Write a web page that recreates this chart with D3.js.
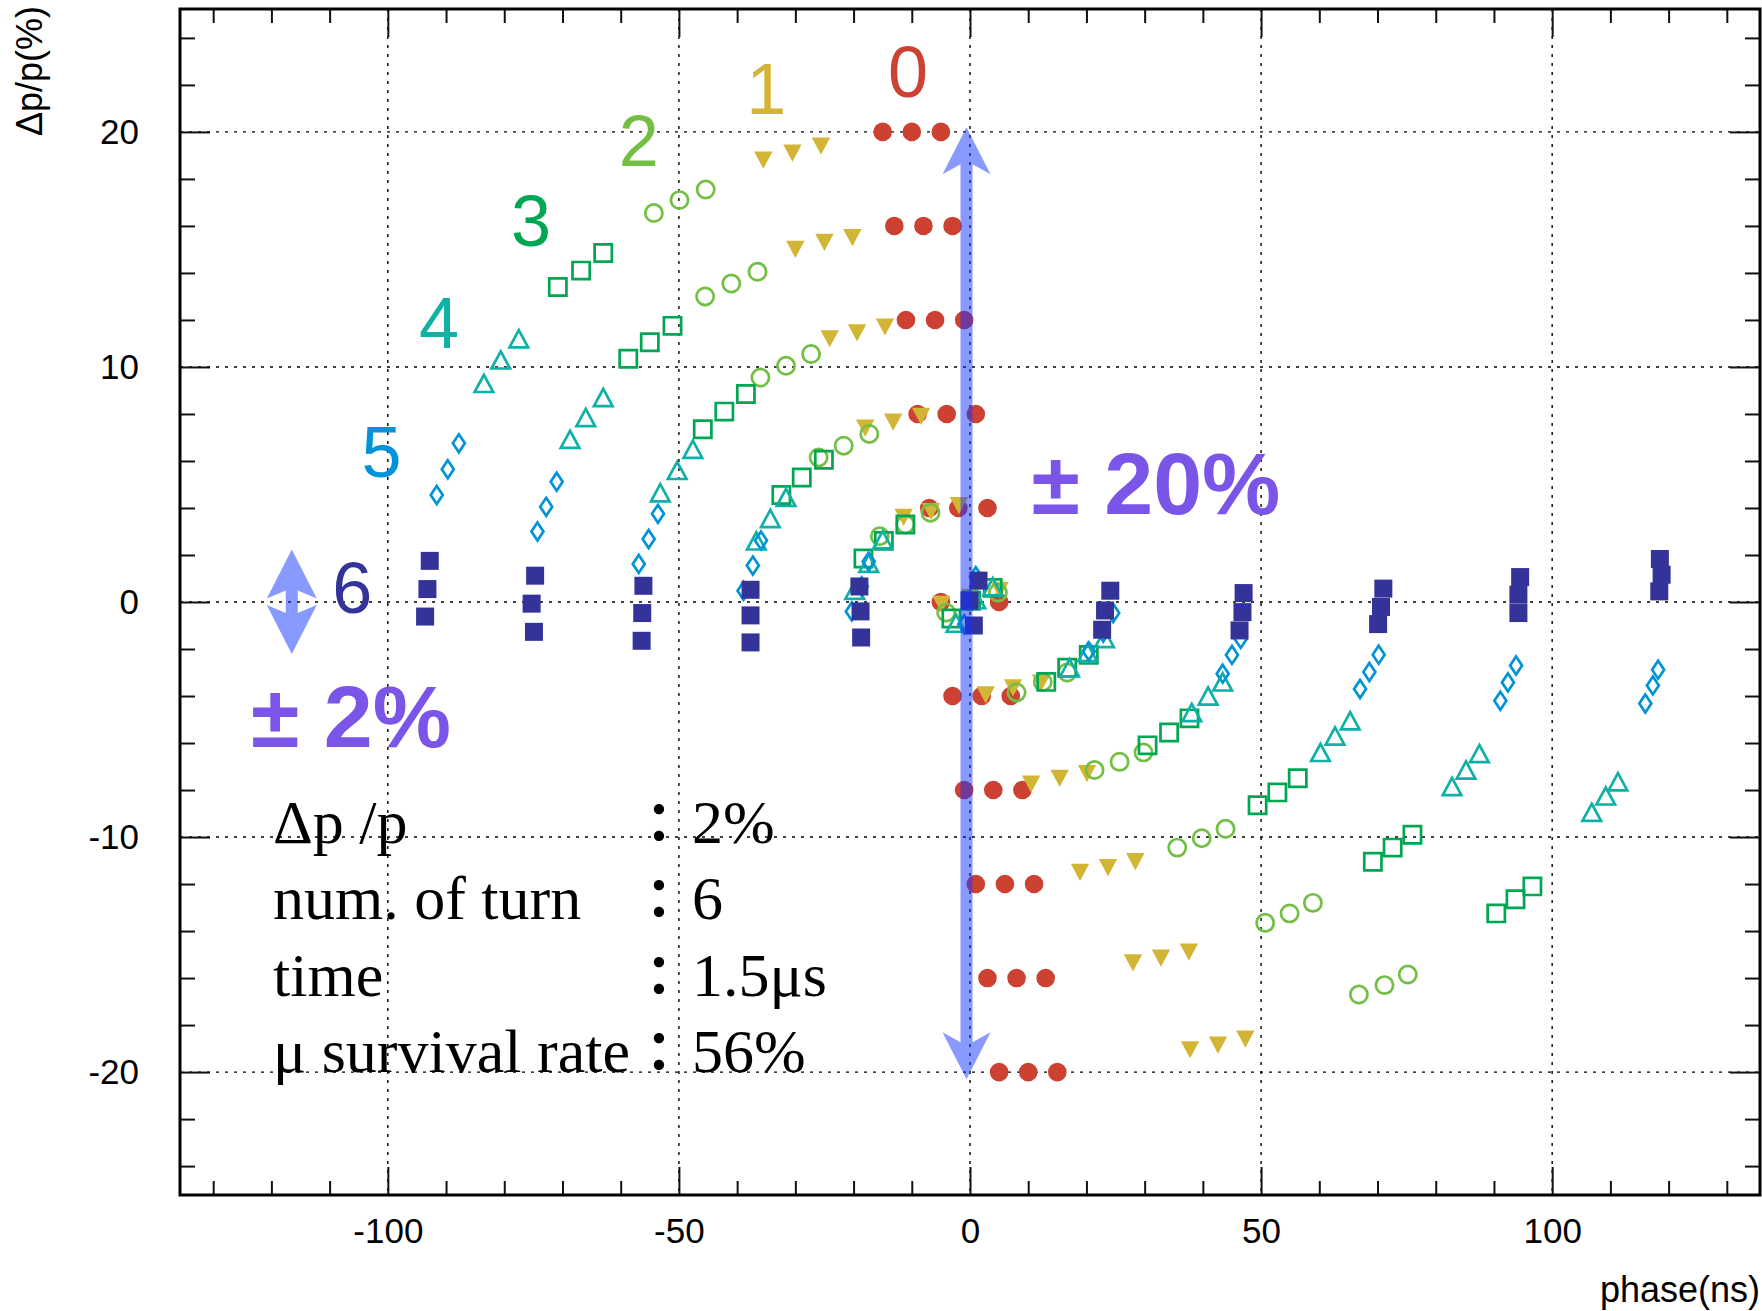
<!DOCTYPE html>
<html>
<head>
<meta charset="utf-8">
<script src="https://cdn.jsdelivr.net/npm/d3@7"></script>
<style>
body { margin: 0; background: #fff; }
svg { display: block; }
</style>
</head>
<body>
<svg width="1762" height="1311"></svg>
<script>
// phase space points after each turn, [phase(ns), dp/p(%)]
var turn0 = [[-15,20],[-10,20],[-5,20],[-13,16],[-8,16],[-3,16],[-11,12],[-6,12],[-1,12],
  [-9,8],[-4,8],[1,8],[-7,4],[-2,4],[3,4],[-5,0],[0,0],[5,0],[-3,-4],[2,-4],[7,-4],
  [-1,-8],[4,-8],[9,-8],[1,-12],[6,-12],[11,-12],[3,-16],[8,-16],[13,-16],[5,-20],[10,-20],[15,-20]];
var turn1 = [[-35.5,18.8],[-30.5,19.1],[-25.6,19.4],[-30.0,15.0],[-25.0,15.3],[-20.2,15.5],
  [-24.1,11.2],[-19.4,11.45],[-14.6,11.7],[-18.0,7.4],[-13.2,7.65],[-8.4,7.9],
  [-11.4,3.6],[-6.7,3.85],[-1.9,4.1],[-4.9,-0.1],[0.1,0.2],[5.1,0.5],
  [2.7,-3.95],[7.4,-3.65],[12.2,-3.45],[10.5,-7.75],[15.4,-7.5],[20.1,-7.3],
  [18.9,-11.5],[23.7,-11.3],[28.4,-11.05],[28.0,-15.35],[32.8,-15.15],[37.6,-14.9],
  [37.8,-19.05],[42.6,-18.85],[47.3,-18.6]];
var turn2 = [[-54.3,16.55],[-49.9,17.1],[-45.4,17.55],[-45.5,13.0],[-41.0,13.55],[-36.5,14.05],
  [-36.0,9.55],[-31.6,10.05],[-27.3,10.55],[-26.0,6.15],[-21.7,6.65],[-17.3,7.15],
  [-15.5,2.8],[-11.1,3.3],[-6.8,3.8],[-4.1,-0.45],[0.2,0.05],[4.8,0.4],
  [8.0,-3.85],[12.5,-3.4],[16.7,-3.0],[21.4,-7.15],[25.7,-6.8],[29.8,-6.4],
  [35.6,-10.45],[39.8,-10.05],[43.9,-9.65],[50.7,-13.65],[54.9,-13.25],[58.9,-12.8],
  [66.8,-16.7],[71.2,-16.3],[75.2,-15.85]];
var turn3 = [[-70.8,13.4],[-66.8,14.1],[-63.0,14.85],[-58.7,10.35],[-55.0,11.05],[-51.1,11.75],
  [-45.9,7.35],[-42.2,8.1],[-38.5,8.85],[-32.4,4.55],[-28.9,5.3],[-25.1,6.05],
  [-18.3,1.85],[-14.8,2.6],[-11.1,3.3],[-3.2,-0.7],[0.2,0.05],[3.9,0.6],
  [13.1,-3.4],[16.7,-2.8],[20.4,-2.25],[30.5,-6.1],[34.2,-5.55],[37.7,-4.95],
  [49.4,-8.65],[52.8,-8.1],[56.3,-7.5],[69.2,-11.05],[72.6,-10.45],[76.0,-9.9],
  [90.4,-13.25],[93.7,-12.65],[96.6,-12.1]];
var turn4 = [[-83.5,9.3],[-80.6,10.3],[-77.5,11.2],[-68.7,6.92],[-66.0,7.85],[-63.0,8.7],
  [-53.2,4.65],[-50.3,5.6],[-47.6,6.5],[-36.7,2.6],[-34.3,3.55],[-31.6,4.45],
  [-19.8,0.5],[-17.4,1.65],[-15.0,2.65],[-2.4,-0.9],[1.0,0.1],[3.9,0.65],
  [17.1,-2.8],[20.2,-2.15],[23.1,-1.55],[38.1,-4.7],[40.9,-4.0],[43.4,-3.4],
  [60.2,-6.4],[62.7,-5.7],[65.3,-5.05],[82.8,-7.85],[85.2,-7.15],[87.5,-6.45],
  [106.8,-8.95],[109.2,-8.25],[111.3,-7.65]];
var turn5 = [[-91.6,4.55],[-89.7,5.65],[-87.8,6.75],[-74.3,3.0],[-72.8,4.05],[-71.0,5.12],
  [-56.9,1.62],[-55.2,2.68],[-53.6,3.75],[-38.9,0.48],[-37.3,1.55],[-35.9,2.62],
  [-20.3,-0.4],[-18.6,0.66],[-17.4,1.72],[-1.0,-0.95],[0.0,0.1],[1.0,1.1],
  [20.4,-2.1],[22.9,-1.3],[24.6,-0.47],[43.4,-3.05],[45.0,-2.25],[46.5,-1.57],
  [67.0,-3.7],[68.6,-2.98],[70.2,-2.24],[91.1,-4.2],[92.4,-3.42],[93.8,-2.7],
  [116.0,-4.32],[117.3,-3.55],[118.2,-2.88]];
var turn6 = [[-93.6,-0.62],[-93.2,0.55],[-92.8,1.75],[-74.9,-1.27],[-75.3,-0.07],[-74.7,1.12],
  [-56.4,-1.65],[-56.3,-0.47],[-56.1,0.69],[-37.7,-1.72],[-37.7,-0.57],[-37.7,0.52],
  [-18.7,-1.51],[-18.8,-0.4],[-19.0,0.66],[0.66,-1.0],[-0.09,0.06],[1.46,0.91],
  [22.7,-1.18],[23.2,-0.36],[24.1,0.48],[46.3,-1.21],[46.8,-0.43],[47.0,0.38],
  [70.1,-0.94],[70.6,-0.21],[71.0,0.57],[94.2,-0.47],[94.2,0.31],[94.5,1.06],
  [118.4,0.45],[118.8,1.16],[118.5,1.83]];

var turnNames = ['0','1','2','3','4','5','6'];
var turnShapes = ['dot','tridown','ring','box','triup','diamond','square'];
var turnColors = ['#cc4132','#d3b535','#72bf44','#00a651','#10b0a6','#0093d9','#333399'];
// where the turn numbers sit (data coords)
var nameX = [-10.65,-35.0,-56.9,-75.4,-91.2,-101.1,-106.1];
var nameY = [21.5,20.77,18.54,15.13,10.81,5.32,-0.47];

var xMajor = [-100,-50,0,50,100];
var yMajor = [-20,-10,0,10,20];

var infoKeys = ['\u0394p /p','num. of turn','time','\u03bc survival rate'];
var infoVals = ['2%','6','1.5\u03bcs','56%'];

var series = [turn0,turn1,turn2,turn3,turn4,turn5,turn6];

(function() {
  var svg = d3.select('svg');
  var pl = 180, pr = 1760, pt = 9, pb = 1195;
  var x = d3.scaleLinear().domain([-135.7,135.7]).range([pl,pr]);
  var y = d3.scaleLinear().domain([-25.23,25.23]).range([pb,pt]);
  var sans = 'Liberation Sans, Arial, Helvetica, sans-serif';
  var serif = 'Liberation Serif, Times New Roman, serif';
  var purple = '#7b55e8';

  // grid
  var grid = svg.append('g');
  grid.selectAll('.gx').data(xMajor).enter().append('line')
    .attr('x1', d => x(d)).attr('x2', d => x(d)).attr('y1', pt).attr('y2', pb);
  grid.selectAll('.gy').data(yMajor).enter().append('line')
    .attr('y1', d => y(d)).attr('y2', d => y(d)).attr('x1', pl).attr('x2', pr);
  grid.selectAll('line').attr('stroke','#000').attr('stroke-width',1.4)
    .attr('stroke-dasharray','3,6');

  // ticks
  var xMinor = d3.range(-130,131,10).filter(v => v % 50 !== 0);
  var yMinor = d3.range(-24,25,2).filter(v => v % 10 !== 0);
  function styleAxis(g) {
    g.select('.domain').remove();
    g.selectAll('line').attr('stroke','#111').attr('stroke-width',2);
    g.selectAll('text').attr('font-family',sans).attr('font-size',35).attr('fill','#000');
  }
  var lab = d => String(d);
  svg.append('g').attr('transform','translate(0,'+pb+')')
    .call(d3.axisBottom(x).tickValues(xMajor).tickSizeInner(-28).tickSizeOuter(0).tickPadding(23).tickFormat(lab))
    .call(styleAxis);
  svg.append('g').attr('transform','translate(0,'+pb+')')
    .call(d3.axisBottom(x).tickValues(xMinor).tickSize(-14).tickFormat(''))
    .call(styleAxis);
  svg.append('g').attr('transform','translate(0,'+pt+')')
    .call(d3.axisTop(x).tickValues(xMajor).tickSize(-28).tickFormat(''))
    .call(styleAxis);
  svg.append('g').attr('transform','translate(0,'+pt+')')
    .call(d3.axisTop(x).tickValues(xMinor).tickSize(-14).tickFormat(''))
    .call(styleAxis);
  svg.append('g').attr('transform','translate('+pl+',0)')
    .call(d3.axisLeft(y).tickValues(yMajor).tickSizeInner(-30).tickSizeOuter(0).tickPadding(41).tickFormat(lab))
    .call(styleAxis);
  svg.append('g').attr('transform','translate('+pl+',0)')
    .call(d3.axisLeft(y).tickValues(yMinor).tickSize(-15).tickFormat(''))
    .call(styleAxis);
  svg.append('g').attr('transform','translate('+pr+',0)')
    .call(d3.axisRight(y).tickValues(yMajor).tickSize(-30).tickFormat(''))
    .call(styleAxis);
  svg.append('g').attr('transform','translate('+pr+',0)')
    .call(d3.axisRight(y).tickValues(yMinor).tickSize(-15).tickFormat(''))
    .call(styleAxis);

  // markers
  function shape(kind, cx, cy) {
    var p = d3.path();
    if (kind === 'dot' || kind === 'ring') {
      var r = kind === 'dot' ? 9.3 : 8.6;
      p.moveTo(cx + r, cy); p.arc(cx, cy, r, 0, 2 * Math.PI);
    } else if (kind === 'tridown') {
      p.moveTo(cx - 9.2, cy - 8.6); p.lineTo(cx + 9.2, cy - 8.6); p.lineTo(cx, cy + 8.6); p.closePath();
    } else if (kind === 'triup') {
      p.moveTo(cx, cy - 8.6); p.lineTo(cx + 9.3, cy + 8.6); p.lineTo(cx - 9.3, cy + 8.6); p.closePath();
    } else if (kind === 'box') {
      p.rect(cx - 8.6, cy - 8.6, 17.2, 17.2);
    } else if (kind === 'square') {
      p.rect(cx - 9, cy - 9, 18, 18);
    } else if (kind === 'diamond') {
      p.moveTo(cx, cy - 9); p.lineTo(cx + 6, cy); p.lineTo(cx, cy + 9); p.lineTo(cx - 6, cy); p.closePath();
    }
    return p.toString();
  }
  var filled = {dot: true, tridown: true, square: true};
  series.forEach(function(data, i) {
    var k = turnShapes[i];
    svg.append('g').selectAll('path').data(data).enter().append('path')
      .attr('d', d => shape(k, x(d[0]), y(d[1])))
      .attr('fill', filled[k] ? turnColors[i] : 'none')
      .attr('stroke', filled[k] ? 'none' : turnColors[i])
      .attr('stroke-width', 2.7)
      .attr('stroke-linejoin','miter');
  });

  // arrows (semi transparent, on top)
  function dblArrow(cx, ty, by, hw, hl, notch, sw) {
    var pts = [[cx,ty],[cx+hw,ty+hl],[cx+sw,ty+hl-notch],[cx+sw,by-hl+notch],[cx+hw,by-hl],
      [cx,by],[cx-hw,by-hl],[cx-sw,by-hl+notch],[cx-sw,ty+hl-notch],[cx-hw,ty+hl]];
    return 'M' + pts.map(p => p.join(',')).join('L') + 'Z';
  }
  svg.append('path')
    .attr('d', dblArrow(x(-0.6), y(20.2), y(-20.3), 24, 47, 10, 6))
    .attr('fill','rgb(17,51,255)').attr('fill-opacity',0.5);
  svg.append('path')
    .attr('d', dblArrow(x(-116.5), y(2.23), y(-2.21), 25, 49, 8, 6))
    .attr('fill','rgb(17,51,255)').attr('fill-opacity',0.5);

  // turn numbers
  svg.append('g').selectAll('text').data(turnNames).enter().append('text')
    .attr('x', (d, i) => x(nameX[i])).attr('y', (d, i) => y(nameY[i]))
    .attr('text-anchor','middle').attr('font-family',sans).attr('font-size',72)
    .attr('fill', (d, i) => turnColors[i]).text(d => d);

  // big purple labels
  svg.append('text').attr('x', x(11.25) - 4).attr('y', y(3.76))
    .attr('font-family',sans).attr('font-weight','bold').attr('font-size',88)
    .attr('fill',purple).text('\u00b1 20%');
  svg.append('text').attr('x', x(-122.8) - 4).attr('y', y(-6.16))
    .attr('font-family',sans).attr('font-weight','bold').attr('font-size',88)
    .attr('fill',purple).text('\u00b1 2%');

  // condition table
  var info = svg.append('g').attr('font-family',serif).attr('font-size',62).attr('fill','#000');
  var base0 = 842.7, step = 76.4;
  info.selectAll('.k').data(infoKeys).enter().append('text')
    .attr('x', 273).attr('y', (d, i) => base0 + i * step).text(d => d);
  info.selectAll('.c').data(infoKeys).enter().append('text')
    .attr('x', 659).attr('y', (d, i) => base0 + i * step)
    .attr('text-anchor','middle').attr('font-family','Noto Sans CJK JP, sans-serif')
    .attr('font-weight','bold').attr('font-size',54).text('\uff1a');
  info.selectAll('.v').data(infoVals).enter().append('text')
    .attr('x', 692).attr('y', (d, i) => base0 + i * step).text(d => d);

  // frame
  svg.append('rect').attr('x',pl).attr('y',pt).attr('width',pr-pl).attr('height',pb-pt)
    .attr('fill','none').attr('stroke','#000').attr('stroke-width',3);

  // axis titles
  svg.append('text').attr('x',pr).attr('y',1302).attr('text-anchor','end')
    .attr('font-family',sans).attr('font-size',36).text('phase(ns)');
  svg.append('text').attr('transform','translate(42,6) rotate(-90)').attr('text-anchor','end')
    .attr('font-family',sans).attr('font-size',36).text('\u0394p/p(%)');
})();
</script>
</body>
</html>
